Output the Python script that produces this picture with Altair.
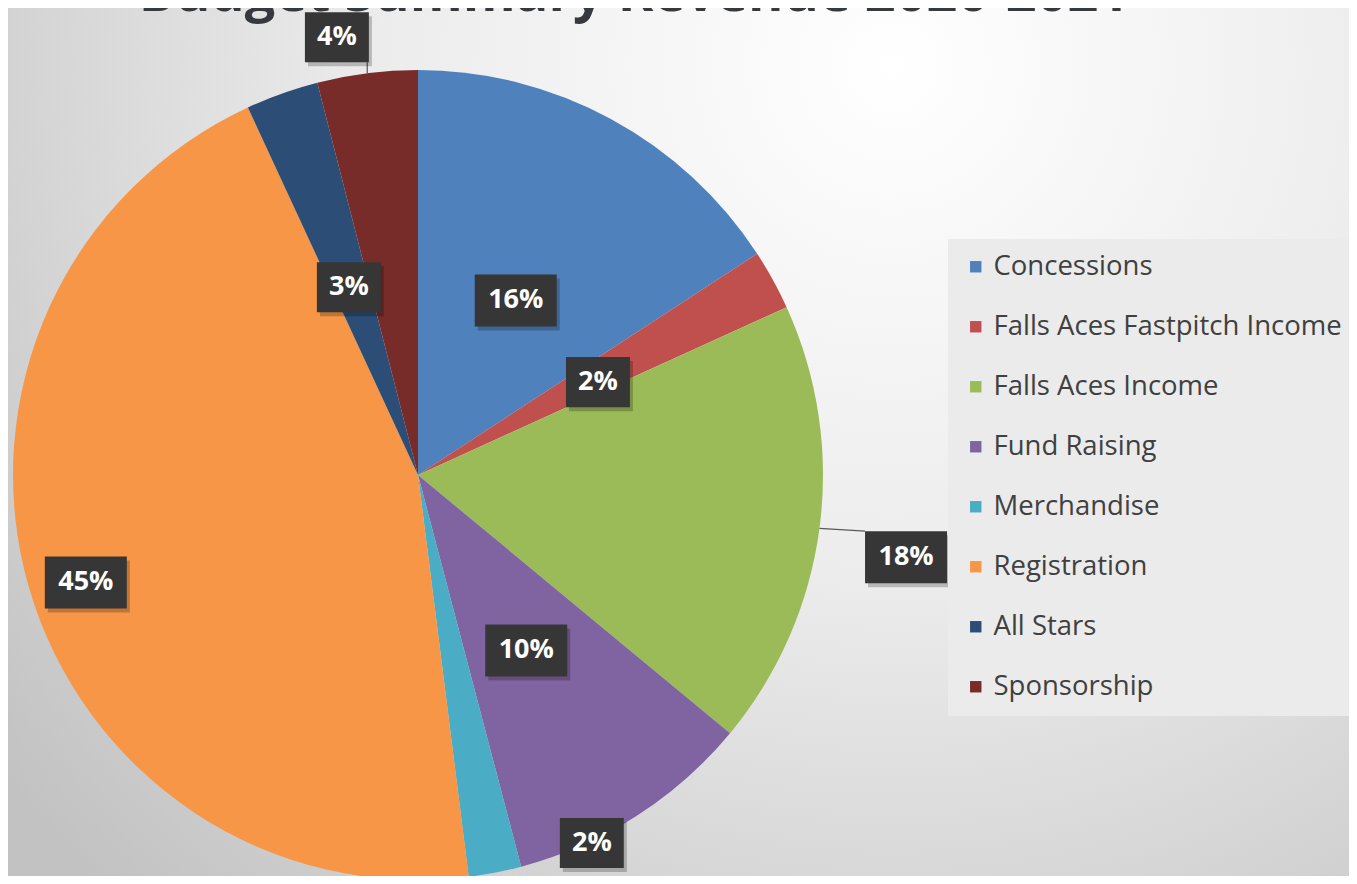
import math
import altair as alt
import pandas as pd

# ---------------- data ----------------
categories = ["Concessions", "Falls Aces Fastpitch Income", "Falls Aces Income",
              "Fund Raising", "Merchandise", "Registration", "All Stars", "Sponsorship"]
shares = [15.8, 2.4, 17.8, 9.9, 2.1, 45.1, 2.9, 4.0]
colors = ["#4f81bd", "#c0504d", "#9bbb59", "#8064a2", "#4bacc6", "#f79646", "#2c4d75", "#772c2a"]
# label layout (fraction of pie radius, angular nudge in degrees) as Excel's best-fit placed them
label_r = [0.494, 0.50, 1.222, 0.509, 1.005, 0.862, 0.494, 1.099]
label_shift = [0.8, 1.5, 2.0, 0.9, -14.3, -1.9, -0.6, -3.3]
title_text = "Budget Summary Revenue 2020-2021"

# ---------------- layout ----------------
W, H = 1341, 868
CX, CY, R = 410, 467, 405          # pie centre / radius in px (chart coords)
xs = alt.Scale(domain=[-CX / R, (W - CX) / R], range=[0, W], nice=False, zero=False)
ys = alt.Scale(domain=[-(H - CY) / R, CY / R], range=[H, 0], nice=False, zero=False)

total = sum(shares)
rows = []
acc = 0.0
for i, (c, v) in enumerate(zip(categories, shares)):
    start, end = acc, acc + v
    acc = end
    mid = (start + end) / 2 / total * 360
    lab_a = math.radians(mid + label_shift[i])
    lx, ly = label_r[i] * math.sin(lab_a), label_r[i] * math.cos(lab_a)
    ex, ey = math.sin(math.radians(mid)), math.cos(math.radians(mid))
    text = f"{round(v / total * 100)}%"
    hw = (41 if len(text) == 3 else 32) / R
    hh = (26 if len(text) == 3 else 25) / R
    tx = min(max(ex, lx - hw), lx + hw)
    ty = min(max(ey, ly - hh), ly + hh)
    rows.append(dict(category=c, value=v, start=start, end=end, cx=0.0, cy=0.0,
                     lx=lx, ly=ly, ex=ex, ey=ey, tx=tx, ty=ty, label=text,
                     nchar=str(len(text)), outside=label_r[i] > 1.05))
df = pd.DataFrame(rows)

base = alt.Chart(df)

bg = alt.Chart(pd.DataFrame({"a": [0]})).mark_rect(
    fill={"gradient": "radial", "x1": 0.66, "y1": 0.22, "r1": 0.0,
          "x2": 0.66, "y2": 0.22, "r2": 0.85,
          "stops": [{"offset": 0, "color": "#ffffff"},
                    {"offset": 0.45, "color": "#ececec"},
                    {"offset": 1, "color": "#c2c2c2"}]}
).encode(x=alt.value(0), x2=alt.value(W), y=alt.value(0), y2=alt.value(H))

pie = base.mark_arc(radius=R).encode(
    x=alt.X("cx:Q", scale=xs, axis=None),
    y=alt.Y("cy:Q", scale=ys, axis=None),
    theta=alt.Theta("start:Q", scale=alt.Scale(domain=[0, total], range=[0, 2 * math.pi]), stack=None),
    theta2="end:Q",
    color=alt.Color("category:N", scale=alt.Scale(domain=categories, range=colors),
                    legend=alt.Legend(orient="none", legendX=940, legendY=231, title=None,
                                      symbolType="square", symbolSize=130, symbolStrokeWidth=0,
                                      labelFontSize=27.5, labelFont="Open Sans", labelColor="#404040",
                                      labelOffset=4, labelLimit=600, rowPadding=31, padding=14,
                                      fillColor="#ebebeb", strokeColor="#ebebeb")),
)

leaders = base.transform_filter("datum.outside").mark_rule(color="#595959", strokeWidth=1.2).encode(
    x=alt.X("ex:Q", scale=xs, axis=None), y=alt.Y("ey:Q", scale=ys, axis=None),
    x2="tx:Q", y2="ty:Q")

path3 = "M-1,-0.634L1,-0.634L1,0.634L-1,0.634Z"
path2 = "M-0.78,-0.61L0.78,-0.61L0.78,0.61L-0.78,0.61Z"
shape_enc = alt.Shape("nchar:N", scale=alt.Scale(domain=["2", "3"], range=[path2, path3]), legend=None)

shadow = base.mark_point(filled=True, opacity=0.22, color="#000000", strokeWidth=0,
                         xOffset=3, yOffset=4).encode(
    x=alt.X("lx:Q", scale=xs, axis=None), y=alt.Y("ly:Q", scale=ys, axis=None),
    shape=shape_enc, size=alt.value(6724))

boxes = base.mark_point(filled=True, opacity=1, color="#363636", strokeWidth=0).encode(
    x=alt.X("lx:Q", scale=xs, axis=None), y=alt.Y("ly:Q", scale=ys, axis=None),
    shape=shape_enc, size=alt.value(6724))

labels = base.mark_text(font="Open Sans", fontWeight="bold", fontSize=27, color="#ffffff",
                        baseline="middle", align="center").encode(
    x=alt.X("lx:Q", scale=xs, axis=None), y=alt.Y("ly:Q", scale=ys, axis=None),
    text="label:N")

title = alt.Chart(pd.DataFrame({"t": [title_text]})).mark_text(
    font="Open Sans", fontWeight="bold", fontSize=54, color="#363a40",
    baseline="alphabetic", align="center").encode(
    x=alt.value(626), y=alt.value(3), text="t:N")

chart = alt.layer(bg, pie, leaders, shadow, boxes, labels, title).properties(
    width=W, height=H, autosize=alt.AutoSizeParams(type="none"), padding=0
).configure_view(stroke=None)

chart.save("out.html", embed_options={"renderer": "svg", "actions": False})
